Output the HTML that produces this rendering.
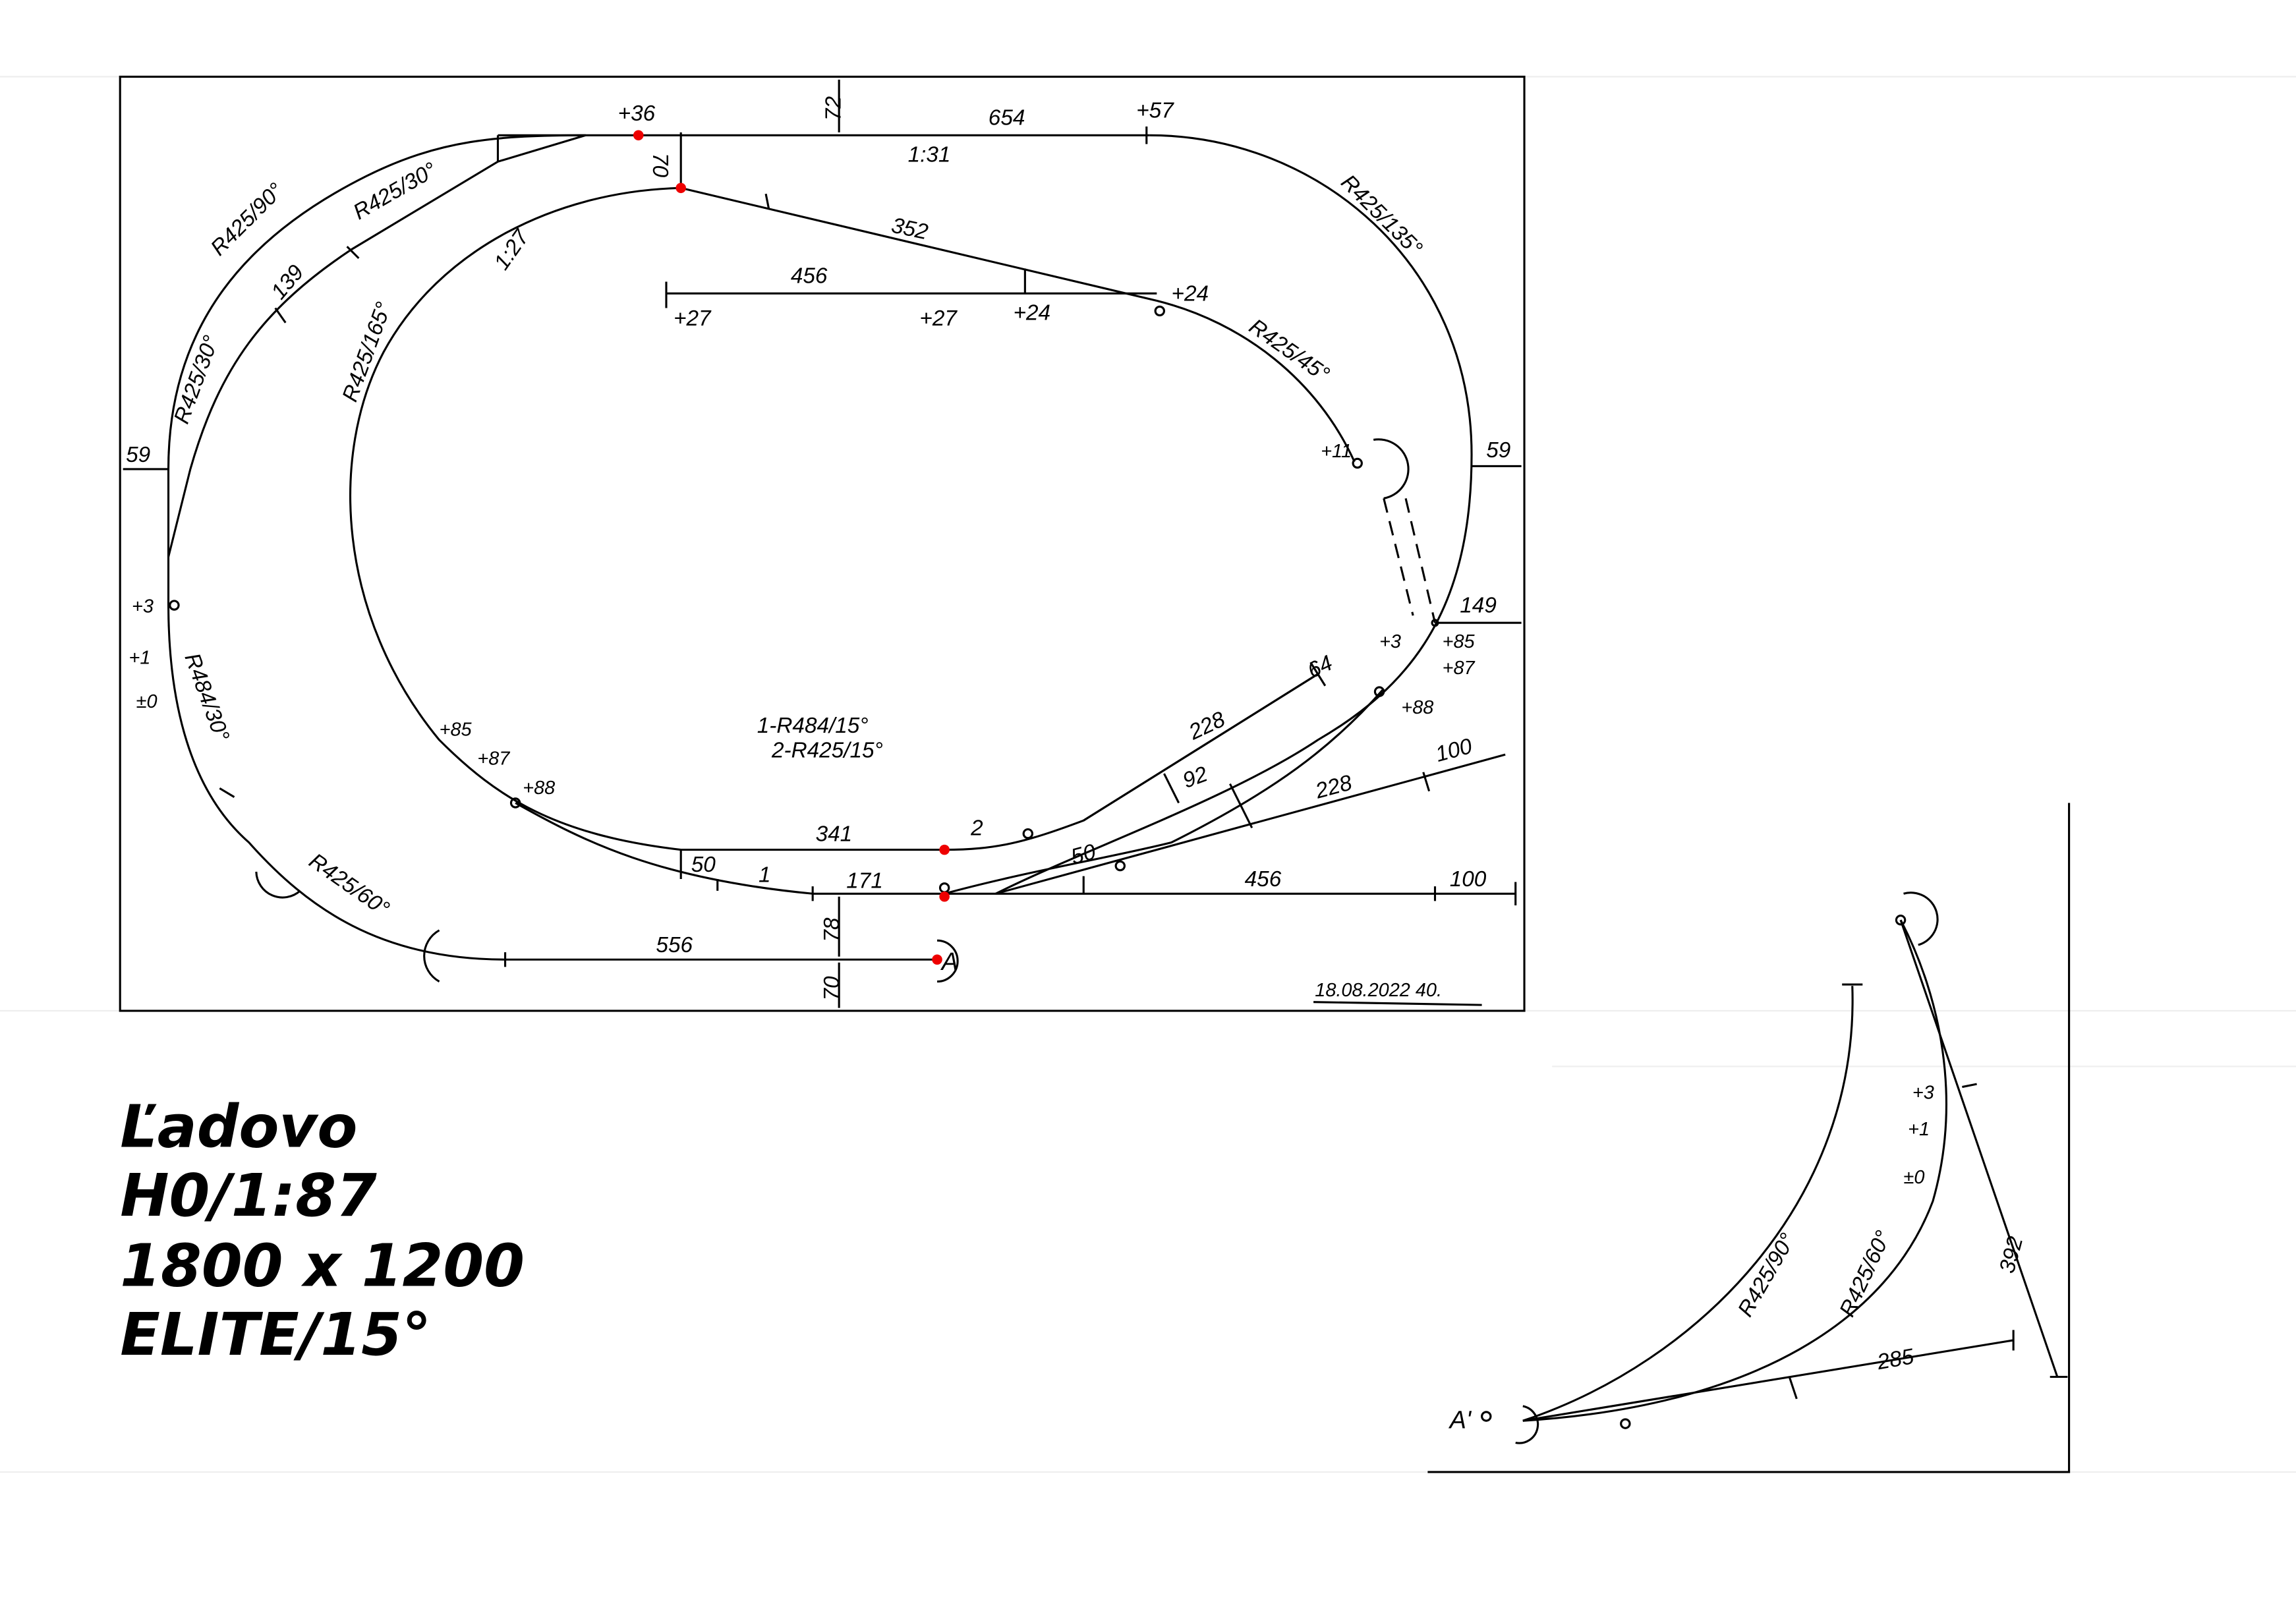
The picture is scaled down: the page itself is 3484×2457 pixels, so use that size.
<!DOCTYPE html>
<html><head><meta charset="utf-8"><style>
html,body{margin:0;padding:0;background:#fff;}
svg{display:block;}
text{font-family:"Liberation Sans",sans-serif;fill:#000;}
.h{font-size:15px;font-style:italic;}
.s{font-size:13px;font-style:italic;}
.big{font-size:40px;font-weight:bold;font-style:italic;font-family:"DejaVu Sans","Liberation Sans",sans-serif;}
</style></head><body>
<svg width="3484" height="2457" viewBox="0 0 1568 1105" xmlns="http://www.w3.org/2000/svg">
<g stroke="#eee" stroke-width="1" fill="none">
<line x1="0" y1="52" x2="1568" y2="52"/><line x1="0" y1="690" x2="1568" y2="690"/>
<line x1="1060" y1="728" x2="1568" y2="728"/><line x1="0" y1="1005" x2="1568" y2="1005"/>
</g>
<g fill="none" stroke="#000" stroke-width="1.4">
<rect x="82" y="52" width="959" height="638"/>
<path d="M340 92 L785 92"/>
<path d="M340 92 L340 110"/>
<path d="M785 92 C900 92 1005 180 1005 310 C1005 420 960 470 900 505 C840 545 740 580 680 610"/>
<path d="M555 610 L1035 610 M1035 602 L1035 618"/>
<path d="M400 92 C340 92 300 95 250 120 C170 160 115 220 115 320 L115 412 C115 480 130 540 170 575 C210 620 260 655 345 655 L640 655"/>
<path d="M400 92 L340 110 L240 170 C180 210 150 250 130 320 L115 380"/>
<path d="M465 128 C380 130 300 170 262 240 C225 310 230 420 300 505 C340 545 380 570 465 580 L645 580 C680 580 700 575 740 560 L900 460"/>
<path d="M352 548 C400 575 450 600 555 610"/>
<path d="M465 128 L790 205"/>
<path d="M790 205 C850 220 900 260 925 315"/>
<path d="M455 200 L790 200 M455 192 L455 210"/>
<path d="M645 610 C700 595 760 585 800 575 C870 540 910 510 945 470"/>
<path d="M680 610 L1028 515"/>
<path d="M740 560 L900 460 M895 452 L905 468"/>
<path d="M945 340 L965 420 M960 340 L980 425" stroke-dasharray="10 6"/>
<path d="M573 54 L573 90 M465 90 L465 126 M573 612 L573 653 M573 657 L573 688 M84 320 L115 320 M1005 318 L1039 318 M980 425 L1039 425"/>
<path d="M700 183 L700 200 M740 598 L740 610 M465 580 L465 600 M795 528 L805 548 M840 535 L855 565"/>
<path d="M523 132 L525 142 M783 86 L783 98 M345 650 L345 660 M980 605 L980 615 M490 600 L490 608 M555 605 L555 615 M972 527 L976 540 M150 538 L160 544 M188 210 L195 220 M237 168 L245 176"/>
<path d="M640 642 A14 14 0 1 1 640 670"/>
<path d="M300 635 A20 20 0 0 0 300 670"/>
<path d="M175 595 A18 18 0 0 0 205 608"/>
<path d="M938 300 A18 18 0 0 1 945 340"/>
<circle cx="119" cy="413" r="3"/><circle cx="792" cy="212" r="3"/><circle cx="927" cy="316" r="3"/><circle cx="352" cy="548" r="3"/><circle cx="702" cy="569" r="3"/><circle cx="765" cy="591" r="3"/><circle cx="645" cy="606" r="3"/><circle cx="942" cy="472" r="3"/><circle cx="980" cy="425" r="2"/>
<path d="M897 684 L1012 686"/>
<path d="M1413 548 L1413 1005 L975 1005"/>
<path d="M1040 970 C1160 930 1270 820 1265 673 M1258 672 L1272 672"/>
<path d="M1040 970 C1200 960 1290 900 1320 820 C1340 750 1325 680 1298 628"/>
<path d="M1040 970 L1375 915 M1375 908 L1375 922"/>
<path d="M1298 628 L1405 940 M1400 940 L1412 940"/>
<path d="M1040 960 A12 12 0 0 1 1035 985"/>
<path d="M1300 610 A18 18 0 0 1 1310 645"/>
<circle cx="1298" cy="628" r="3"/><circle cx="1110" cy="972" r="3"/><circle cx="1015" cy="967" r="3"/>
<path d="M1222 940 L1227 955 M1340 742 L1350 740"/>
</g>
<g fill="#e00">
<circle cx="436" cy="92" r="3.5"/><circle cx="465" cy="128" r="3.5"/><circle cx="645" cy="580" r="3.5"/><circle cx="645" cy="612" r="3.5"/><circle cx="640" cy="655" r="3.5"/>
</g>
<g class="h">
<text x="422" y="82">+36</text><text x="675" y="85">654</text><text x="776" y="80">+57</text>
<text x="620" y="110">1:31</text><text x="608" y="158" transform="rotate(12 608 158)">352</text>
<text x="540" y="193">456</text><text x="460" y="222">+27</text><text x="628" y="222">+27</text><text x="692" y="218">+24</text><text x="800" y="205">+24</text>
<text x="345" y="185" transform="rotate(-55 345 185)">1:27</text>
<text x="150" y="175" transform="rotate(-45 150 175)">R425/90°</text>
<text x="245" y="150" transform="rotate(-30 245 150)">R425/30°</text>
<text x="192" y="205" transform="rotate(-50 192 205)">139</text>
<text x="128" y="290" transform="rotate(-70 128 290)">R425/30°</text>
<text x="243" y="275" transform="rotate(-70 243 275)">R425/165°</text>
<text x="915" y="125" transform="rotate(45 915 125)">R425/135°</text>
<text x="852" y="225" transform="rotate(35 852 225)">R425/45°</text>
<text x="86" y="315">59</text><text x="1015" y="312">59</text><text x="997" y="418">149</text>
<text x="902" y="312" class="s">+11</text>
<text x="942" y="442" class="s">+3</text><text x="985" y="442" class="s">+85</text><text x="985" y="460" class="s">+87</text><text x="957" y="487" class="s">+88</text>
<text x="896" y="463" transform="rotate(-25 896 463)">64</text>
<text x="815" y="505" transform="rotate(-25 815 505)">228</text>
<text x="810" y="538" transform="rotate(-20 810 538)">92</text>
<text x="900" y="545" transform="rotate(-15 900 545)">228</text>
<text x="982" y="520" transform="rotate(-15 982 520)">100</text>
<text x="733" y="590" transform="rotate(-15 733 590)">50</text>
<text x="850" y="605">456</text><text x="990" y="605">100</text>
<text x="557" y="574">341</text><text x="663" y="570">2</text>
<text x="472" y="595">50</text><text x="518" y="602">1</text><text x="578" y="606">171</text>
<text x="448" y="650">556</text>
<text x="517" y="500">1-R484/15°</text><text x="527" y="517">2-R425/15°</text>
<text x="300" y="502" class="s">+85</text><text x="326" y="522" class="s">+87</text><text x="357" y="542" class="s">+88</text>
<text x="90" y="418" class="s">+3</text><text x="88" y="453" class="s">+1</text><text x="93" y="483" class="s">±0</text>
<text x="126" y="448" transform="rotate(70 126 448)">R484/30°</text>
<text x="210" y="590" transform="rotate(35 210 590)">R425/60°</text>
<text x="643" y="662" style="font-size:17px">A</text>
<text x="556" y="80" transform="rotate(-90 566 72)">72</text>
<text x="446" y="116" transform="rotate(90 452 110)">70</text>
<text x="556" y="640" transform="rotate(-90 566 633)">78</text>
<text x="556" y="680" transform="rotate(-90 566 673)">70</text>
<text x="898" y="680" class="s">18.08.2022 40.</text>
<text x="990" y="975" style="font-size:17px">A'</text>
<text x="1306" y="750" class="s">+3</text><text x="1303" y="775" class="s">+1</text><text x="1300" y="808" class="s">±0</text>
<text x="1195" y="900" transform="rotate(-60 1195 900)">R425/90°</text>
<text x="1265" y="900" transform="rotate(-65 1265 900)">R425/60°</text>
<text x="1283" y="935" transform="rotate(-10 1283 935)">285</text>
<text x="1375" y="870" transform="rotate(-75 1375 870)">392</text>
</g>
<text class="big" x="82" y="783">Ľadovo</text>
<text class="big" x="82" y="830">H0/1:87</text>
<text class="big" x="82" y="878">1800 x 1200</text>
<text class="big" x="82" y="925">ELITE/15°</text>
</svg>
</body></html>
